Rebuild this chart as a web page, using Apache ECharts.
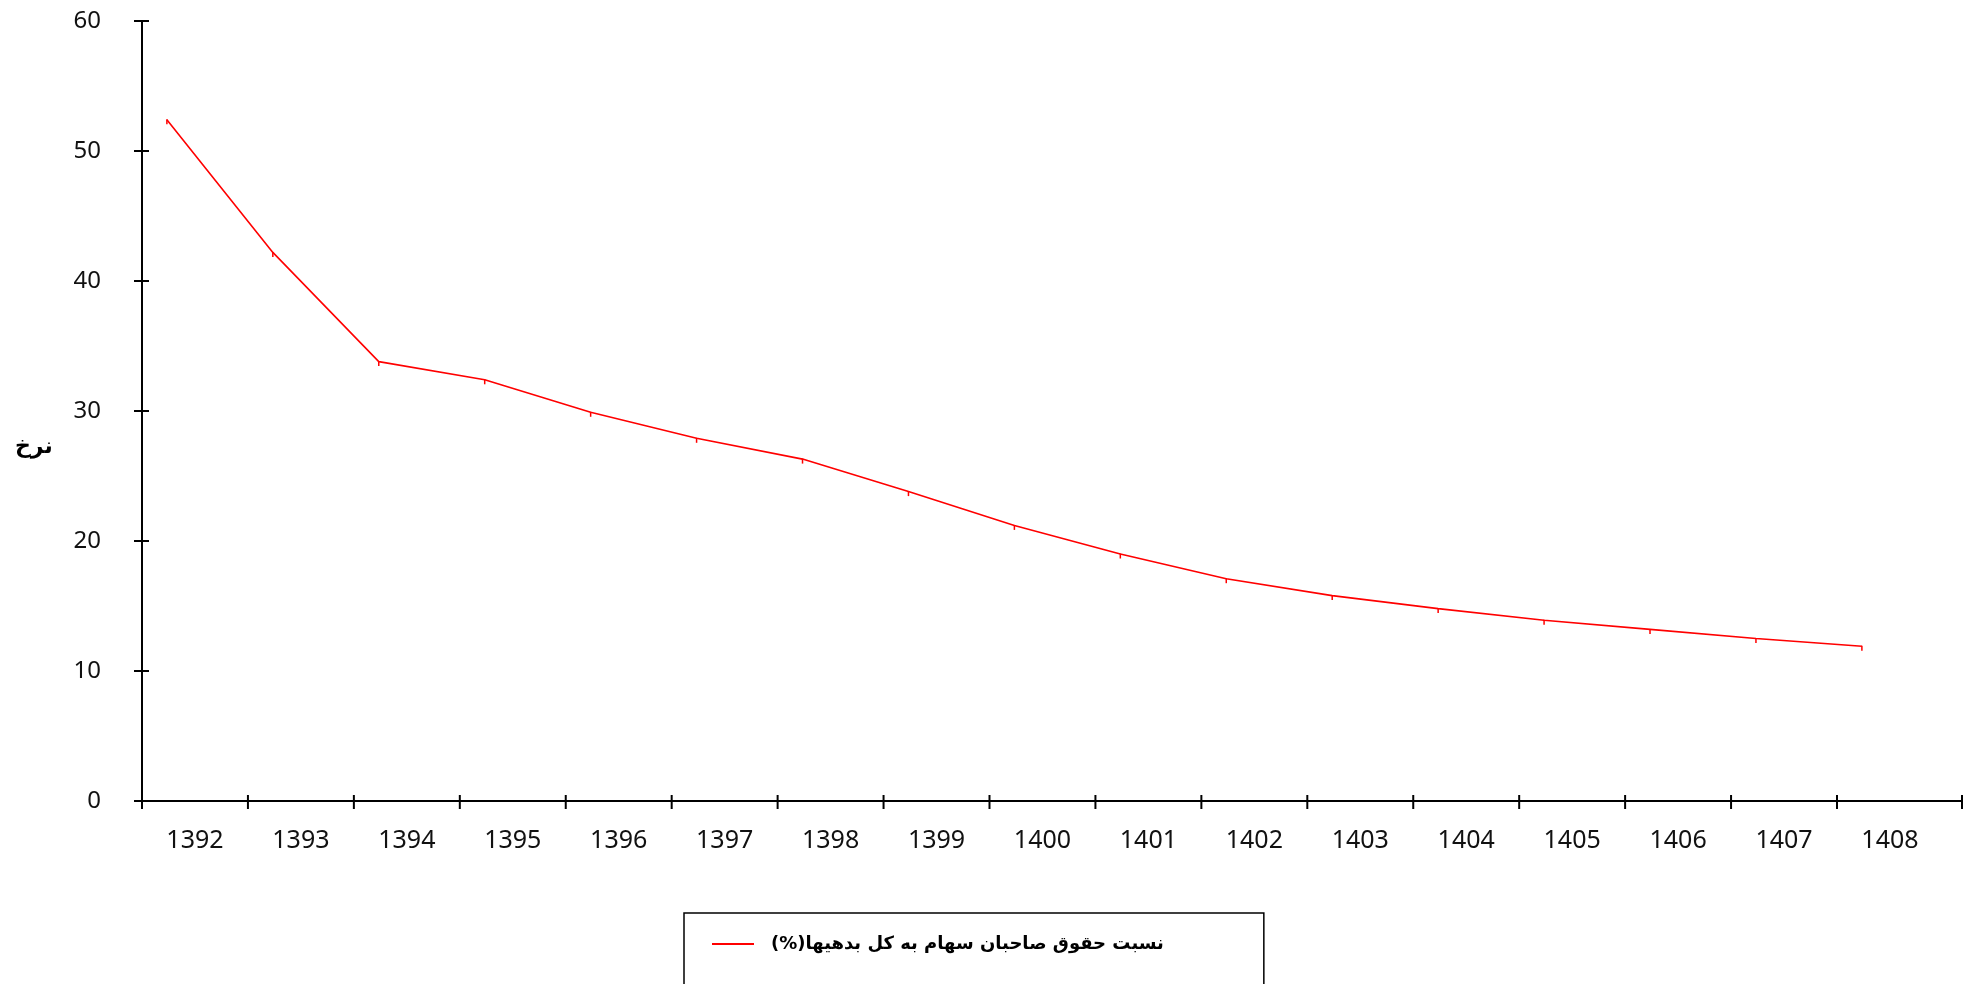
<!DOCTYPE html>
<html>
<head>
<meta charset="utf-8">
<script src="https://cdn.jsdelivr.net/npm/echarts@6/dist/echarts.min.js"></script>
<style>
  html, body { margin: 0; padding: 0; background: #fff; }
  #chart { width: 1968px; height: 984px; }
</style>
</head>
<body>
<div id="chart"></div>
<script>
// Years on the horizontal axis (Solar Hijri)
const years = ['1392', '1393', '1394', '1395', '1396', '1397', '1398', '1399', '1400',
               '1401', '1402', '1403', '1404', '1405', '1406', '1407', '1408'];

// Ratio of shareholders' equity to total liabilities, percent
const equityToDebtRatio = [52.4, 42.2, 33.8, 32.4, 29.9, 27.9, 26.3, 23.8, 21.2,
                           19.0, 17.1, 15.8, 14.8, 13.9, 13.2, 12.5, 11.9];

// Value-axis ticks
const yTicks = [0, 10, 20, 30, 40, 50, 60];

const seriesLabel = '(%)' + 'نسبت حقوق صاحبان سهام به کل بدهیها';
const yAxisTitle = 'نرخ';

// Horizontal layout: each year occupies one unit; points sit a little right of the slot start
const POINT_OFFSET = 0.235;
const AXIS_END = 17.18;
const slotTicks = years.map((_, i) => i).concat([AXIS_END]);
const labelPositions = years.map((_, i) => i + 0.5);
const seriesPoints = equityToDebtRatio.map((v, i) => [i + POINT_OFFSET, v]);

const chart = echarts.init(document.getElementById('chart'), null, { renderer: 'canvas' });

const axisColor = '#000';
const axisLineStyle = { color: axisColor, width: 2 };

// Tick marks that cross the axis line (outer / inner half lengths in px)
function crossTick(horizontal, outer, inner) {
  return function (params, api) {
    const p = api.coord([api.value(0), api.value(1)]);
    const shape = horizontal
      ? { x1: p[0] - outer, y1: p[1], x2: p[0] + inner, y2: p[1] }
      : { x1: p[0], y1: p[1] + outer, x2: p[0], y2: p[1] - inner };
    return { type: 'line', shape: shape, style: { stroke: axisColor, lineWidth: 2 } };
  };
}

chart.setOption({
  backgroundColor: '#fff',
  animation: false,
  grid: { left: 142, right: 6, top: 21, bottom: 183 },
  xAxis: {
    type: 'value',
    min: 0,
    max: AXIS_END,
    splitLine: { show: false },
    axisLine: { show: true, onZero: false, lineStyle: axisLineStyle },
    axisTick: { show: false },
    axisLabel: {
      customValues: labelPositions,
      formatter: v => years[Math.round(v - 0.5)],
      margin: 27,
      color: '#111',
      fontFamily: 'Noto Sans',
      fontSize: 25
    }
  },
  yAxis: {
    type: 'value',
    min: yTicks[0],
    max: yTicks[yTicks.length - 1],
    interval: 10,
    splitLine: { show: false },
    axisLine: { show: true, onZero: false, lineStyle: axisLineStyle },
    axisTick: { show: false },
    axisLabel: {
      margin: 41,
      color: '#111',
      fontFamily: 'Noto Sans',
      fontSize: 24
    }
  },
  legend: {
    left: 684,
    top: 913,
    padding: [22, 100, 80, 28],
    borderColor: '#000',
    borderWidth: 1.5,
    itemWidth: 42,
    itemHeight: 2,
    icon: 'path://M0,0H42V2H0Z',
    textStyle: {
      fontFamily: 'DejaVu Sans',
      fontWeight: 'bold',
      fontSize: 18,
      color: '#000',
      padding: [0, 0, 0, 12]
    },
    data: [seriesLabel]
  },
  graphic: [{
    type: 'text',
    left: 15,
    top: 436,
    style: {
      text: yAxisTitle,
      fontFamily: 'DejaVu Sans',
      fontWeight: 'bold',
      fontSize: 22,
      fill: '#000'
    }
  }],
  series: [
    {
      name: seriesLabel,
      type: 'line',
      data: seriesPoints,
      symbol: 'rect',
      symbolSize: [1.5, 5],
      symbolOffset: [0, 2],
      itemStyle: { color: '#ff0000' },
      lineStyle: { color: '#ff0000', width: 1.6 },
      z: 3
    },
    {
      name: 'y-ticks',
      type: 'custom',
      data: yTicks.map(v => [0, v]),
      renderItem: crossTick(true, 8, 7),
      clip: false,
      silent: true,
      z: 4
    },
    {
      name: 'x-ticks',
      type: 'custom',
      data: slotTicks.map(t => [t, 0]),
      renderItem: crossTick(false, 8, 6),
      clip: false,
      silent: true,
      z: 4
    }
  ]
});
</script>
</body>
</html>
